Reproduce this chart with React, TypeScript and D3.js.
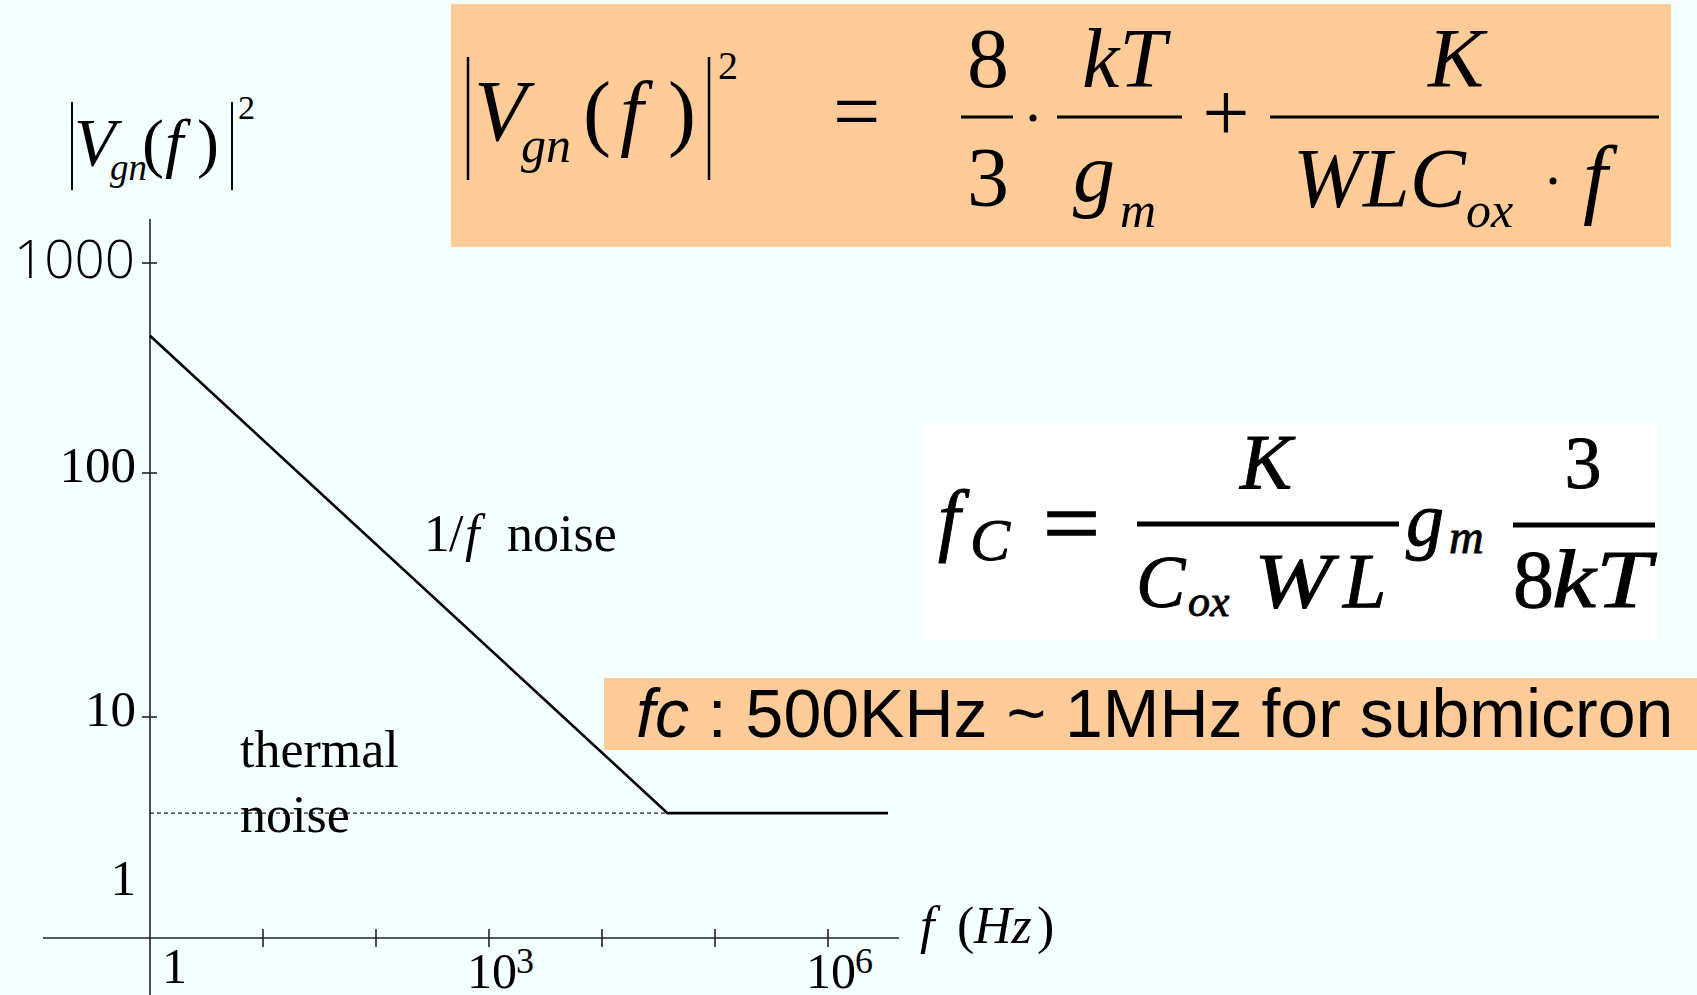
import React from "react";
import * as d3 from "d3";

const W = 1697;
const H = 995;

// Frequency axis: one tick per decade, labels only at 1, 10^3 and 10^6
const xTickValues = [10, 100, 1e3, 1e4, 1e5, 1e6];
const xLabelValues = [1, 1e3, 1e6];
const xLabelBase = ["1", "10", "10"];
const xLabelExp = ["", "3", "6"];

// Noise-power axis (log): ticks at 10, 100, 1000; labels also at 1
const yTickValues = [10, 100, 1000];
const yLabelValues = [1, 10, 100, 1000];

// Noise spectrum: 1/f slope down to the corner, then the thermal floor
const noiseFreq = [1, 3.8e4, 3.4e6];
const noisePower = [450, 2.7, 2.7];

// Thermal floor extended back to low frequency (dashed)
const thermalFreq = [1, 3.8e4];
const thermalPower = [2.7, 2.7];

const SERIF = "'Liberation Serif', 'Times New Roman', serif";
const SANS = "'Liberation Sans', Arial, sans-serif";
const LIGHT_SANS = "'Open Sans', 'Liberation Sans', sans-serif";
const BG = "#F4FFFF";
const PEACH = "#FFCC99";

export default function App() {
  const x = d3.scaleLog().domain([1, 1e6]).range([150, 828]);
  // hand-drawn decade spacing on the vertical axis
  const yLog = d3.scaleLinear().domain([0, 1, 2, 3]).range([886, 717, 473, 263]);
  const y = (v: number) => yLog(Math.log10(v));

  const noisePts = noiseFreq.map((f, i) => [f, noisePower[i]] as [number, number]);
  const thermalPts = thermalFreq.map((f, i) => [f, thermalPower[i]] as [number, number]);
  const line = d3
    .line<[number, number]>()
    .x((d) => x(d[0]))
    .y((d) => y(d[1]));

  const axisX0 = x(1);
  const axisY0 = 938;

  return (
    <svg
      width={W}
      height={H}
      viewBox={`0 0 ${W} ${H}`}
      style={{ position: "absolute", left: 0, top: 0, display: "block" }}
    >
      <rect x={0} y={0} width={W} height={H} fill={BG} />

      {/* ---------- main formula banner ---------- */}
      <rect x={451} y={4} width={1220} height={243} fill={PEACH} />
      <g fill="#000" fontFamily={SERIF}>
        <line x1={468} x2={468} y1={57} y2={180} stroke="#000" strokeWidth={2.5} />
        <line x1={709} x2={709} y1={57} y2={180} stroke="#000" strokeWidth={2.5} />
        <text x={474} y={140} fontSize={86} fontStyle="italic">V</text>
        <text x={521} y={162} fontSize={50} fontStyle="italic">gn</text>
        <text x={583} y={140} fontSize={84}>(</text>
        <text x={620} y={140} fontSize={84} fontStyle="italic">f</text>
        <text x={668} y={140} fontSize={84}>)</text>
        <text x={718} y={79} fontSize={40}>2</text>
        <text x={833} y={140} fontSize={84}>=</text>
        <text x={988} y={87} fontSize={84} textAnchor="middle">8</text>
        <line x1={961} x2={1013} y1={117} y2={117} stroke="#000" strokeWidth={3} />
        <text x={988} y={206} fontSize={84} textAnchor="middle">3</text>
        <circle cx={1033} cy={118} r={3.5} />
        <text x={1124} y={87} fontSize={84} fontStyle="italic" textAnchor="middle">kT</text>
        <line x1={1057} x2={1182} y1={117} y2={117} stroke="#000" strokeWidth={3} />
        <text x={1073} y={201} fontSize={84} fontStyle="italic">g</text>
        <text x={1120} y={227} fontSize={50} fontStyle="italic">m</text>
        <text x={1226} y={141} fontSize={84} textAnchor="middle">+</text>
        <line x1={1270} x2={1659} y1={117} y2={117} stroke="#000" strokeWidth={3} />
        <text x={1456} y={87} fontSize={84} fontStyle="italic" textAnchor="middle">K</text>
        <text x={1293} y={207} fontSize={84} fontStyle="italic">WLC</text>
        <text x={1466} y={227} fontSize={50} fontStyle="italic">ox</text>
        <circle cx={1553} cy={181} r={3.5} />
        <text x={1583} y={207} fontSize={88} fontStyle="italic">f</text>
      </g>

      {/* ---------- corner-frequency formula ---------- */}
      <rect x={924} y={423} width={734} height={217} fill="#FFFFFF" />
      <g fill="#000" fontFamily={SERIF} stroke="#000" strokeWidth={0.9}>
        <text x={938} y={546} fontSize={80} fontStyle="italic">f</text>
        <text x={970} y={560} fontSize={60} fontStyle="italic">C</text>
        <text x={1043} y={554} fontSize={90} textLength={57} lengthAdjust="spacingAndGlyphs" strokeWidth={1.5}>=</text>
        <line x1={1137} x2={1399} y1={524} y2={524} strokeWidth={5} />
        <text x={1266} y={488} fontSize={78} fontStyle="italic" textAnchor="middle">K</text>
        <text x={1136} y={607} fontSize={74} fontStyle="italic">C</text>
        <text x={1188} y={616} fontSize={44} fontStyle="italic">ox</text>
        <text x={1254} y={607} fontSize={78} fontStyle="italic" textLength={78} lengthAdjust="spacingAndGlyphs">W</text>
        <text x={1343} y={607} fontSize={78} fontStyle="italic">L</text>
        <text x={1406} y={545} fontSize={76} fontStyle="italic">g</text>
        <text x={1449} y={553} fontSize={48} fontStyle="italic">m</text>
        <line x1={1513} x2={1655} y1={525} y2={525} strokeWidth={5} />
        <text x={1583} y={488} fontSize={74} textAnchor="middle">3</text>
        <text x={1513} y={607} fontSize={82}>8</text>
        <text x={1552} y={607} fontSize={82} fontStyle="italic" textLength={99} lengthAdjust="spacingAndGlyphs">kT</text>
      </g>

      {/* ---------- fc range banner ---------- */}
      <rect x={604} y={678} width={W - 604} height={72} fill={PEACH} />
      <text x={636} y={737} fontSize={68} fontFamily={SANS} fill="#000">
        <tspan fontStyle="italic">fc</tspan>
        <tspan> : 500KHz ~ 1MHz for submicron</tspan>
      </text>

      {/* ---------- axes ---------- */}
      <g stroke="#222" strokeWidth={1.6} fill="none">
        <line x1={axisX0} x2={axisX0} y1={219} y2={H} />
        <line x1={43} x2={899} y1={axisY0} y2={axisY0} />
        {xTickValues.map((v) => (
          <line key={"xt" + v} x1={x(v)} x2={x(v)} y1={axisY0 - 9} y2={axisY0 + 9} />
        ))}
        {yTickValues.map((v) => (
          <line key={"yt" + v} x1={axisX0 - 8} x2={axisX0 + 7} y1={y(v)} y2={y(v)} />
        ))}
      </g>

      {/* y tick labels */}
      <g fill="#000" textAnchor="end">
        {yLabelValues.map((v) =>
          v === 1000 ? (
            <text key={"yl" + v} x={135} y={y(v) + 15} fontSize={53} fontFamily={LIGHT_SANS} fontWeight={300}>
              {v}
            </text>
          ) : (
            <text key={"yl" + v} x={136} y={y(v) + 9} fontSize={51} fontFamily={SERIF}>
              {v}
            </text>
          )
        )}
      </g>

      {/* x tick labels */}
      <g fill="#000" fontFamily={SERIF}>
        {xLabelValues.map((v, i) =>
          xLabelExp[i] === "" ? (
            <text key={"xl" + v} x={x(v) + 12} y={983} fontSize={50}>
              {xLabelBase[i]}
            </text>
          ) : (
            <g key={"xl" + v}>
              <text x={x(v) + 3} y={988} fontSize={50} textAnchor="middle">
                {xLabelBase[i]}
              </text>
              <text x={x(v) + 27} y={973} fontSize={36}>
                {xLabelExp[i]}
              </text>
            </g>
          )
        )}
      </g>

      {/* axis titles */}
      <g fill="#000" fontFamily={SERIF}>
        <text x={920} y={943} fontSize={52} fontStyle="italic">f</text>
        <text x={957} y={943} fontSize={52}>(</text>
        <text x={974} y={943} fontSize={52} fontStyle="italic">Hz</text>
        <text x={1037} y={943} fontSize={52}>)</text>

        <line x1={72} x2={72} y1={102} y2={190} stroke="#000" strokeWidth={2} />
        <line x1={232} x2={232} y1={102} y2={190} stroke="#000" strokeWidth={2} />
        <text x={74} y={165} fontSize={68} fontStyle="italic">V</text>
        <text x={110} y={180} fontSize={37} fontStyle="italic">gn</text>
        <text x={142} y={165} fontSize={66}>(</text>
        <text x={165} y={165} fontSize={66} fontStyle="italic">f</text>
        <text x={197} y={165} fontSize={66}>)</text>
        <text x={238} y={119} fontSize={34}>2</text>
      </g>

      {/* ---------- noise curves ---------- */}
      <path
        d={line(thermalPts) ?? ""}
        fill="none"
        stroke="#222"
        strokeWidth={1.2}
        strokeDasharray="4 3"
      />
      <path d={line(noisePts) ?? ""} fill="none" stroke="#000" strokeWidth={2.6} />

      {/* curve annotations */}
      <g fill="#000" fontFamily={SERIF} fontSize={52}>
        <text x={424} y={551}>1</text>
        <text x={449} y={551}>/</text>
        <text x={465} y={551} fontStyle="italic">f</text>
        <text x={507} y={551}>noise</text>
        <text x={240} y={767}>thermal</text>
        <text x={240} y={832}>noise</text>
      </g>
    </svg>
  );
}
